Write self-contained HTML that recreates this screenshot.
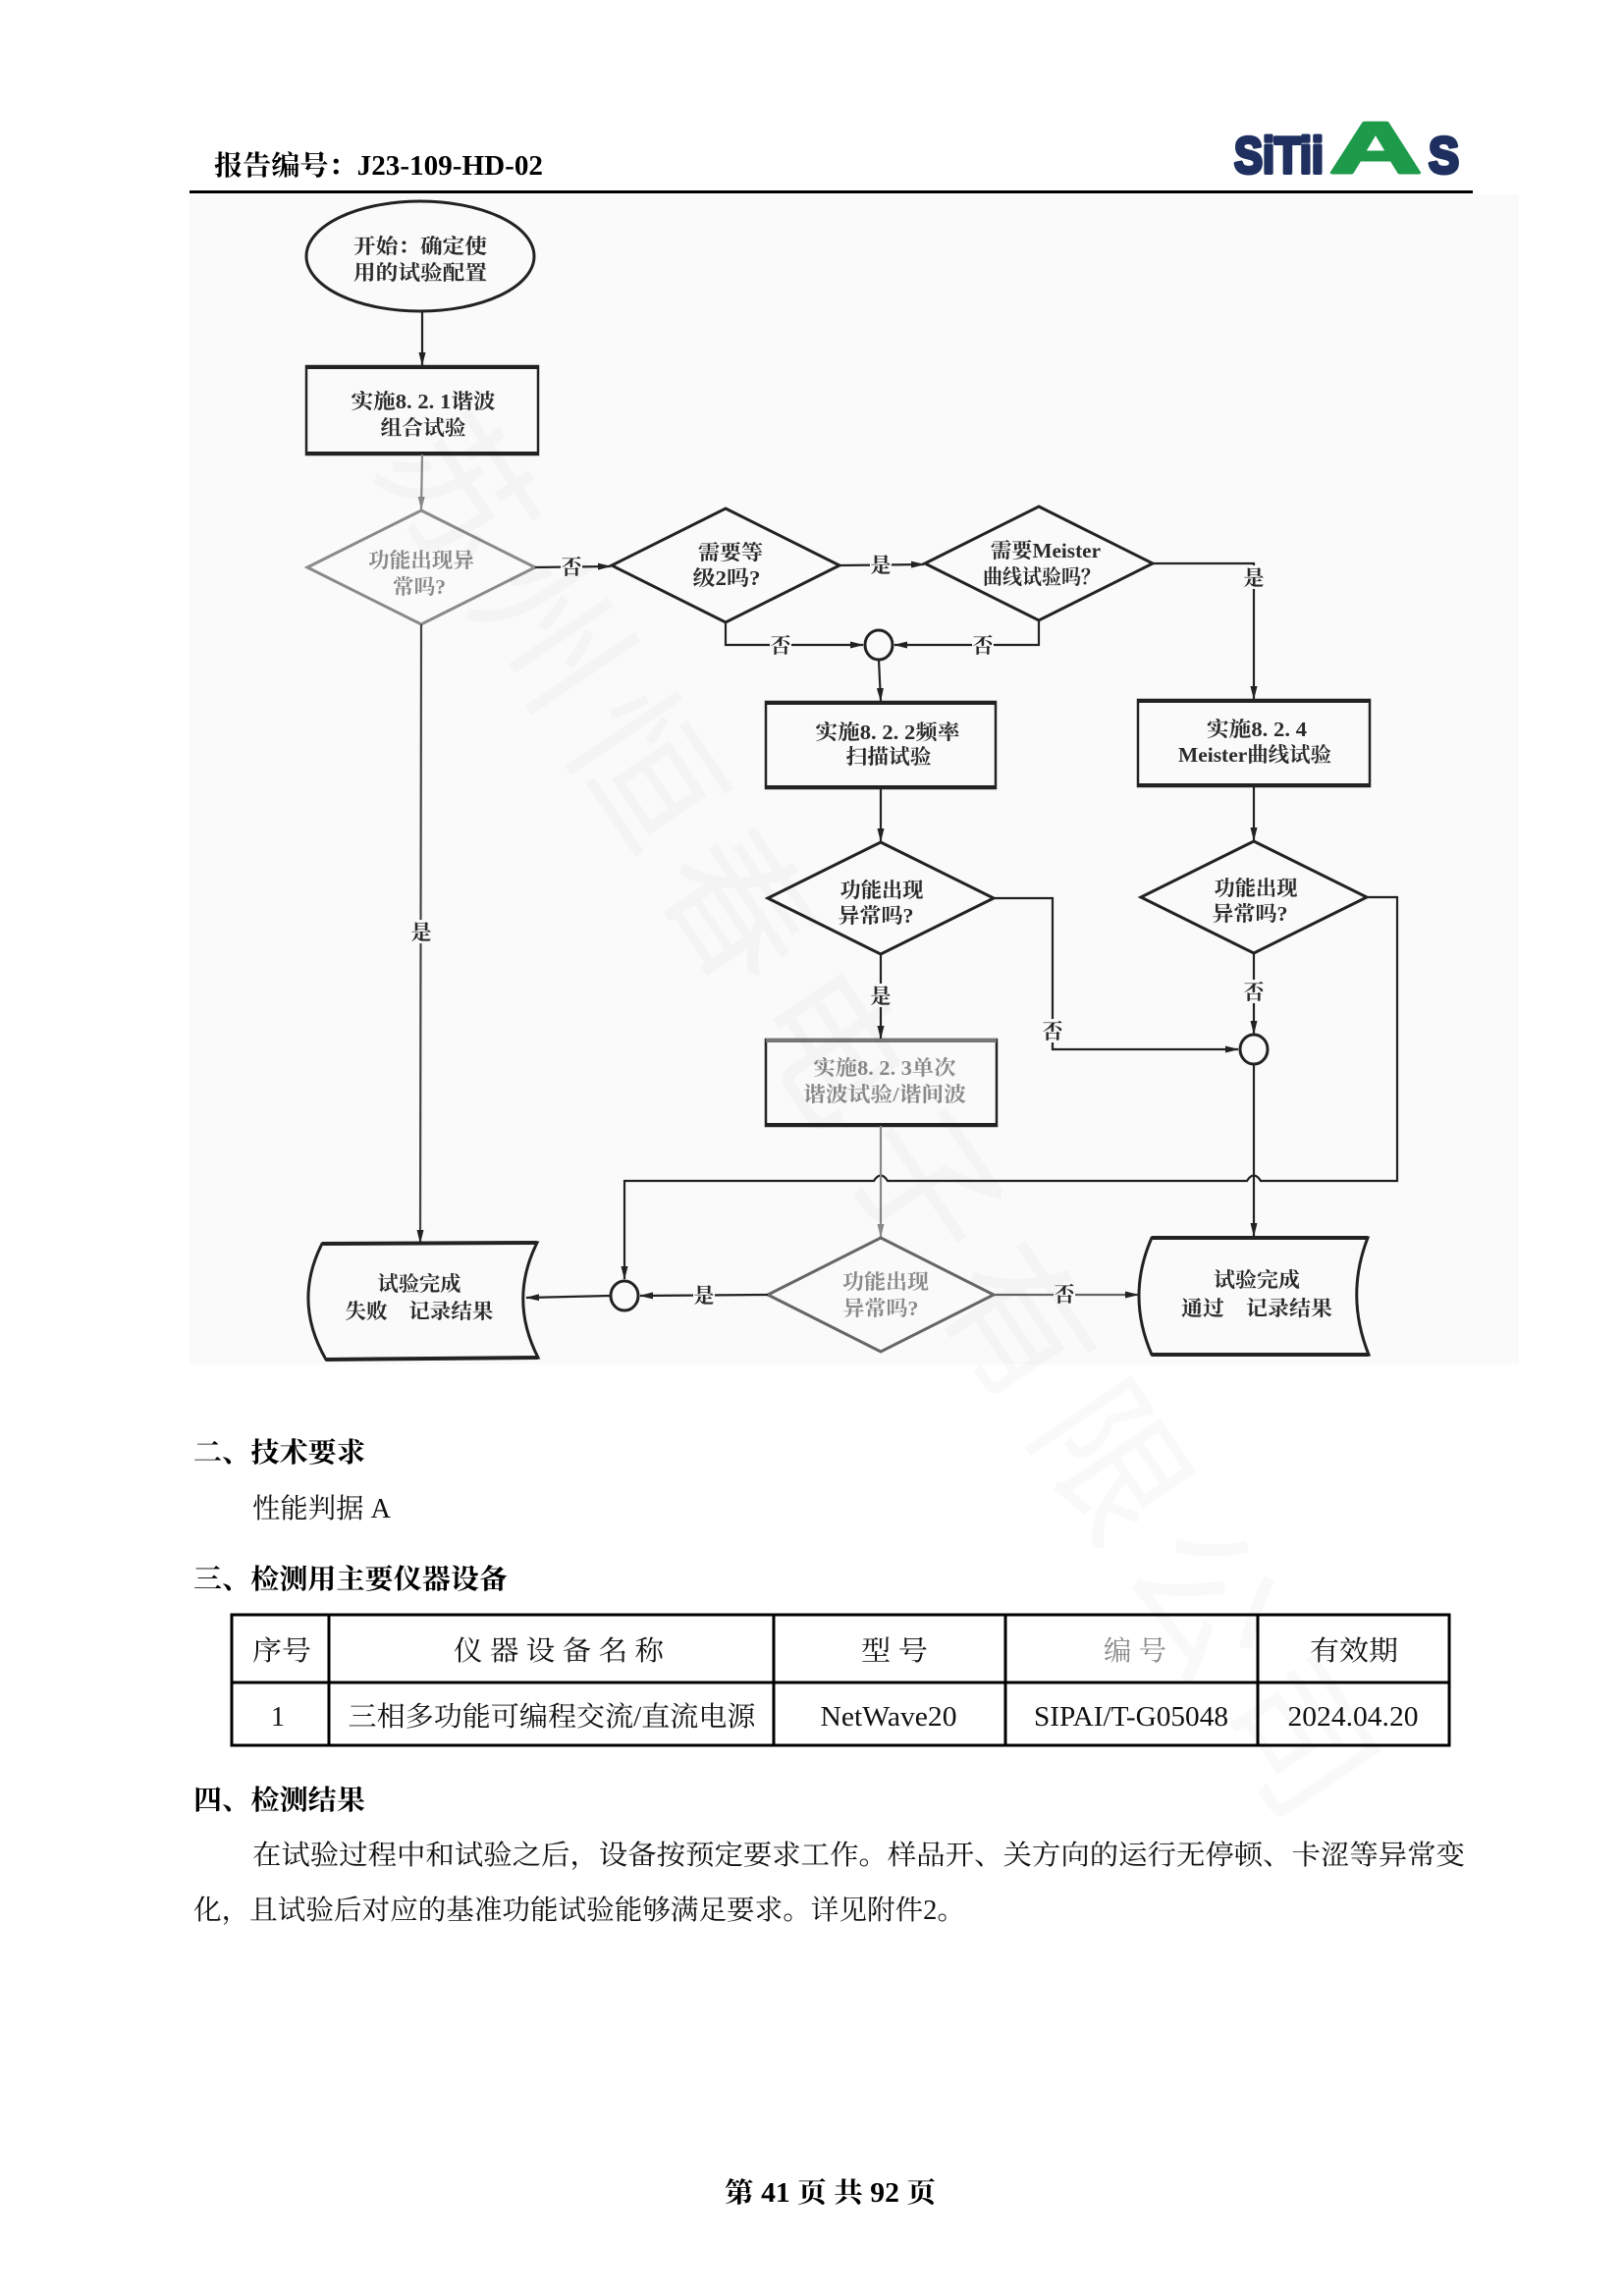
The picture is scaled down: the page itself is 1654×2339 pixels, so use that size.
<!DOCTYPE html>
<html><head><meta charset="utf-8"><style>
html,body{margin:0;padding:0;background:#fff;}
svg{display:block;}
.f{font-family:"Liberation Serif","Noto Serif CJK SC",serif;font-weight:bold;fill:#2a2a2a;font-size:21px;}
.g{fill:#8a8a8a;}
.b{font-family:"Liberation Serif","Noto Serif CJK SC",serif;font-size:28px;fill:#111;}
.bb{font-family:"Liberation Serif","Noto Serif CJK SC",serif;font-size:28px;font-weight:bold;fill:#000;}
</style></head><body>
<svg width="1654" height="2339" viewBox="0 0 1654 2339" xmlns="http://www.w3.org/2000/svg">
<defs>
<marker id="a" markerWidth="14" markerHeight="10" refX="13" refY="5" orient="auto" markerUnits="userSpaceOnUse"><path d="M0,1.5 L14,5 L0,8.5 Z" fill="#222"/></marker>
<marker id="ag" markerWidth="14" markerHeight="10" refX="13" refY="5" orient="auto" markerUnits="userSpaceOnUse"><path d="M0,1.5 L14,5 L0,8.5 Z" fill="#888"/></marker>
</defs>
<rect x="0" y="0" width="1654" height="2339" fill="#fff"/>

<!-- header -->
<text class="bb" x="218" y="178" textLength="335" lengthAdjust="spacingAndGlyphs">报告编号：J23-109-HD-02</text>
<text x="1257" y="176" font-family="Liberation Sans, DejaVu Sans, sans-serif" font-weight="bold" font-size="52" fill="#1f2f5f" stroke="#1f2f5f" stroke-width="4" stroke-linejoin="round" textLength="91" lengthAdjust="spacingAndGlyphs">SiTii</text>
<text x="1354" y="176" font-family="Liberation Sans, DejaVu Sans, sans-serif" font-weight="bold" font-size="74" fill="#1d9a4a" stroke="#1d9a4a" stroke-width="3" stroke-linejoin="round" textLength="94" lengthAdjust="spacingAndGlyphs">A</text>
<text x="1455" y="176" font-family="Liberation Sans, DejaVu Sans, sans-serif" font-weight="bold" font-size="52" fill="#1f2f5f" stroke="#1f2f5f" stroke-width="4" stroke-linejoin="round" textLength="31" lengthAdjust="spacingAndGlyphs">S</text>
<rect x="193" y="194" width="1307" height="3" fill="#000"/>

<!-- flowchart background -->
<rect x="193" y="198" width="1354" height="1192" fill="#fafafa"/>

<g fill="none" stroke="#222" stroke-width="2.2">
<ellipse cx="428" cy="261" rx="116" ry="56" stroke-width="3"/>
<line x1="430" y1="318" x2="430" y2="372" marker-end="url(#a)"/>
<rect x="312" y="373" width="236" height="90" stroke-width="2.5"/>
<line x1="312" y1="374" x2="548" y2="374" stroke-width="4"/>
<line x1="312" y1="462" x2="548" y2="462" stroke-width="4"/>
<line x1="430" y1="463" x2="429" y2="519" stroke="#888" marker-end="url(#ag)"/>
<polygon points="429,520 545,578 429,636 313,578" stroke="#8a8a8a" stroke-width="3"/>
<line x1="545" y1="578" x2="622" y2="577" marker-end="url(#a)"/>
<polygon points="739,518 855,576 739,634 623,576" stroke-width="3"/>
<line x1="855" y1="576" x2="941" y2="575" marker-end="url(#a)"/>
<polygon points="1058,516 1174,574 1058,632 942,574" stroke-width="3"/>
<polyline points="1174,574 1277,574 1277,712" marker-end="url(#a)"/>
<polyline points="739,634 739,657 879,657" marker-end="url(#a)"/>
<polyline points="1058,632 1058,657 911,657" marker-end="url(#a)"/>
<ellipse cx="895" cy="657" rx="14" ry="15" stroke-width="3"/>
<line x1="895" y1="672" x2="897" y2="714" marker-end="url(#a)"/>
<rect x="780" y="715" width="234" height="88" stroke-width="2.5"/>
<line x1="780" y1="716" x2="1014" y2="716" stroke-width="4"/>
<line x1="780" y1="802" x2="1014" y2="802" stroke-width="4"/>
<rect x="1159" y="713" width="236" height="88" stroke-width="2.5"/>
<line x1="1159" y1="714" x2="1395" y2="714" stroke-width="4"/>
<line x1="1159" y1="800" x2="1395" y2="800" stroke-width="4"/>
<line x1="897" y1="803" x2="897" y2="857" marker-end="url(#a)"/>
<line x1="1277" y1="801" x2="1277" y2="856" marker-end="url(#a)"/>
<polygon points="897,858 1012,915 897,972 782,915" stroke-width="3"/>
<polygon points="1277,857 1392,914 1277,971 1162,914" stroke-width="3"/>
<polyline points="1012,915 1072,915 1072,1069 1261,1069" marker-end="url(#a)"/>
<line x1="1277" y1="971" x2="1277" y2="1053" marker-end="url(#a)"/>
<ellipse cx="1277" cy="1069" rx="14" ry="15" stroke-width="3"/>
<line x1="897" y1="972" x2="897" y2="1058" marker-end="url(#a)"/>
<rect x="780" y="1059" width="235" height="88" stroke-width="2.5"/>
<line x1="780" y1="1060" x2="1015" y2="1060" stroke-width="4" stroke="#777"/>
<line x1="780" y1="1146" x2="1015" y2="1146" stroke-width="4"/>
<path d="M1392,914 L1423,914 L1423,1203 L1284,1203 Q1277,1192 1270,1203 L904,1203 Q897,1192 890,1203 L636,1203 L636,1303" marker-end="url(#a)"/>
<line x1="897" y1="1147" x2="897" y2="1260" stroke="#888" marker-end="url(#ag)"/>
<line x1="1277" y1="1084" x2="1277" y2="1259" marker-end="url(#a)"/>
<polygon points="897,1261 1012,1319 897,1377 782,1319" stroke="#666" stroke-width="3"/>
<line x1="782" y1="1319" x2="652" y2="1320" marker-end="url(#a)"/>
<ellipse cx="636" cy="1320" rx="14" ry="15" stroke-width="3"/>
<line x1="621" y1="1320" x2="536" y2="1322" marker-end="url(#a)"/>
<line x1="1012" y1="1319" x2="1159" y2="1319" stroke="#666" marker-end="url(#a)"/>
<line x1="429" y1="636" x2="428" y2="1266" stroke="#444" marker-end="url(#a)"/>
<path d="M328,1267 L547,1266 Q518,1324 548,1383 L332,1385 Q298,1326 328,1267 Z" stroke-width="3"/>
<line x1="328" y1="1267" x2="547" y2="1266" stroke-width="4"/>
<line x1="332" y1="1385" x2="548" y2="1383" stroke-width="4"/>
<path d="M1173,1261 L1393,1261 Q1370,1320 1394,1380 L1173,1380 Q1147,1320 1173,1261 Z" stroke-width="3"/>
<line x1="1173" y1="1261" x2="1393" y2="1261" stroke-width="4"/>
<line x1="1173" y1="1380" x2="1394" y2="1380" stroke-width="4"/>
</g>

<g fill="#fafafa">
<rect x="571" y="565" width="22" height="24"/>
<rect x="886" y="563" width="22" height="24"/>
<rect x="1266" y="576" width="22" height="24"/>
<rect x="784" y="645" width="22" height="24"/>
<rect x="990" y="645" width="22" height="24"/>
<rect x="418" y="937" width="22" height="24"/>
<rect x="886" y="1002" width="22" height="24"/>
<rect x="1061" y="1038" width="22" height="24"/>
<rect x="1266" y="998" width="22" height="24"/>
<rect x="706" y="1307" width="22" height="24"/>
<rect x="1073" y="1306" width="22" height="24"/>
</g>

<g class="f" text-anchor="middle">
<text x="428" y="258" textLength="136" lengthAdjust="spacingAndGlyphs">开始：确定使</text>
<text x="428" y="285" textLength="136" lengthAdjust="spacingAndGlyphs">用的试验配置</text>
<text x="431" y="416" textLength="147" lengthAdjust="spacingAndGlyphs">实施8. 2. 1谐波</text>
<text x="431" y="443" textLength="87" lengthAdjust="spacingAndGlyphs">组合试验</text>
<text class="f g" x="429" y="578" textLength="108" lengthAdjust="spacingAndGlyphs">功能出现异</text>
<text class="f g" x="427" y="605" textLength="54" lengthAdjust="spacingAndGlyphs">常吗?</text>
<text x="744" y="570" textLength="66" lengthAdjust="spacingAndGlyphs">需要等</text>
<text x="740" y="596" textLength="69" lengthAdjust="spacingAndGlyphs">级2吗?</text>
<text x="1065" y="568" textLength="112" lengthAdjust="spacingAndGlyphs">需要Meister</text>
<text x="1061" y="595" textLength="120" lengthAdjust="spacingAndGlyphs">曲线试验吗？</text>
<text x="904" y="753" textLength="147" lengthAdjust="spacingAndGlyphs">实施8. 2. 2频率</text>
<text x="905" y="778" textLength="87" lengthAdjust="spacingAndGlyphs">扫描试验</text>
<text x="1280" y="750" textLength="102" lengthAdjust="spacingAndGlyphs">实施8. 2. 4</text>
<text x="1278" y="776" textLength="156" lengthAdjust="spacingAndGlyphs">Meister曲线试验</text>
<text x="898" y="914" textLength="85" lengthAdjust="spacingAndGlyphs">功能出现</text>
<text x="892" y="940" textLength="77" lengthAdjust="spacingAndGlyphs">异常吗?</text>
<text x="1279" y="912" textLength="85" lengthAdjust="spacingAndGlyphs">功能出现</text>
<text x="1273" y="938" textLength="77" lengthAdjust="spacingAndGlyphs">异常吗?</text>
<text class="f g" x="901" y="1095" textLength="145" lengthAdjust="spacingAndGlyphs">实施8. 2. 3单次</text>
<text class="f g" x="901" y="1122" textLength="166" lengthAdjust="spacingAndGlyphs">谐波试验/谐间波</text>
<text class="f g" x="902" y="1313" textLength="88" lengthAdjust="spacingAndGlyphs">功能出现</text>
<text class="f g" x="897" y="1340" textLength="77" lengthAdjust="spacingAndGlyphs">异常吗?</text>
<text x="427" y="1315" textLength="85" lengthAdjust="spacingAndGlyphs">试验完成</text>
<text x="427" y="1343" textLength="151" lengthAdjust="spacingAndGlyphs">失败　记录结果</text>
<text x="1280" y="1311" textLength="88" lengthAdjust="spacingAndGlyphs">试验完成</text>
<text x="1280" y="1340" textLength="154" lengthAdjust="spacingAndGlyphs">通过　记录结果</text>
<text x="582" y="585">否</text>
<text x="897" y="583">是</text>
<text x="1277" y="596">是</text>
<text x="795" y="665">否</text>
<text x="1001" y="665">否</text>
<text x="429" y="957">是</text>
<text x="897" y="1022">是</text>
<text x="1072" y="1058">否</text>
<text x="1277" y="1018">否</text>
<text x="717" y="1327">是</text>
<text x="1084" y="1326">否</text>
</g>

<text x="0" y="0" transform="translate(380,470) rotate(56)" font-family="Noto Sans CJK SC, sans-serif" font-size="150" fill="#000" fill-opacity="0.025" letter-spacing="20">苏州恒春电子有限公司</text>

<text class="bb" x="197" y="1489" textLength="175" lengthAdjust="spacingAndGlyphs">二、技术要求</text>
<text class="b" x="257" y="1546" textLength="141" lengthAdjust="spacingAndGlyphs">性能判据 A</text>
<text class="bb" x="197" y="1618" textLength="320" lengthAdjust="spacingAndGlyphs">三、检测用主要仪器设备</text>

<g fill="none" stroke="#000" stroke-width="3">
<rect x="236" y="1645" width="1240" height="133"/>
<line x1="236" y1="1714" x2="1476" y2="1714"/>
<line x1="335" y1="1645" x2="335" y2="1778"/>
<line x1="788" y1="1645" x2="788" y2="1778"/>
<line x1="1024" y1="1645" x2="1024" y2="1778"/>
<line x1="1281" y1="1645" x2="1281" y2="1778"/>
</g>
<g class="b" text-anchor="middle">
<text x="287" y="1691" textLength="60" lengthAdjust="spacingAndGlyphs">序号</text>
<text x="569" y="1691" textLength="214" lengthAdjust="spacingAndGlyphs">仪 器 设 备 名 称</text>
<text x="911" y="1691" textLength="68" lengthAdjust="spacingAndGlyphs">型 号</text>
<text x="1156" y="1691" textLength="64" lengthAdjust="spacingAndGlyphs" fill="#888">编 号</text>
<text x="1379" y="1691" textLength="90" lengthAdjust="spacingAndGlyphs">有效期</text>
<text x="283" y="1758">1</text>
<text x="562" y="1758" textLength="415" lengthAdjust="spacingAndGlyphs">三相多功能可编程交流/直流电源</text>
<text x="905" y="1758" textLength="139" lengthAdjust="spacingAndGlyphs">NetWave20</text>
<text x="1152" y="1758" textLength="198" lengthAdjust="spacingAndGlyphs">SIPAI/T-G05048</text>
<text x="1378" y="1758" textLength="133" lengthAdjust="spacingAndGlyphs">2024.04.20</text>
</g>

<text class="bb" x="197" y="1843" textLength="175" lengthAdjust="spacingAndGlyphs">四、检测结果</text>
<text class="b" x="257" y="1899" textLength="1235" lengthAdjust="spacingAndGlyphs">在试验过程中和试验之后，设备按预定要求工作。样品开、关方向的运行无停顿、卡涩等异常变</text>
<text class="b" x="197" y="1955" textLength="786" lengthAdjust="spacingAndGlyphs">化，且试验后对应的基准功能试验能够满足要求。详见附件2。</text>

<text class="bb" x="738" y="2243" textLength="215" lengthAdjust="spacingAndGlyphs">第 41 页 共 92 页</text>
</svg>
</body></html>
